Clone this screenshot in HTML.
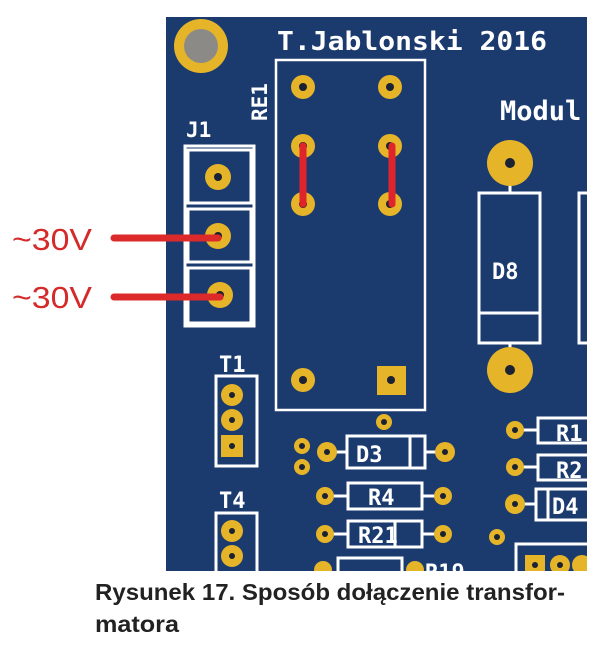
<!DOCTYPE html>
<html><head><meta charset="utf-8"><style>
html,body{margin:0;padding:0;background:#fff;}
svg{display:block;}
</style></head><body>
<svg width="608" height="648" viewBox="0 0 608 648" xmlns="http://www.w3.org/2000/svg" font-family="'DejaVu Sans Mono','Liberation Mono',monospace">
<defs>
<clipPath id="pcb"><rect x="166" y="17" width="421" height="554"/></clipPath>
</defs>
<rect x="0" y="0" width="608" height="648" fill="#fff"/>
<g clip-path="url(#pcb)">
<rect x="166" y="17" width="421" height="554" fill="#1b3b6f"/>
<circle cx="201" cy="46" r="27" fill="#e6b428"/>
<circle cx="201" cy="46" r="17" fill="#8c8a86"/>
<text x="277" y="50" fill="#fff" font-size="26" font-weight="bold" textLength="270" lengthAdjust="spacingAndGlyphs">T.Jablonski 2016</text>
<text x="500" y="120" fill="#fff" font-size="27" font-weight="bold">Modul</text>
<text x="186" y="137" fill="#fff" font-size="21" font-weight="bold">J1</text>
<text transform="translate(267,121) rotate(-90)" fill="#fff" font-size="21" font-weight="bold">RE1</text>
<g fill="none" stroke="#fff" stroke-width="3">
<rect x="185" y="146" width="69" height="180"/>
<rect x="188" y="150" width="63" height="53"/>
<rect x="188" y="209" width="63" height="53"/>
<rect x="188" y="268" width="63" height="55"/>
<rect x="276" y="60" width="149" height="350" stroke-width="2.5"/>
<rect x="479" y="193" width="61" height="150" stroke-width="3"/>
<line x1="479" y1="313" x2="540" y2="313"/>
<line x1="510" y1="175" x2="510" y2="193"/>
<line x1="510" y1="343" x2="510" y2="360"/>
<rect x="579" y="193" width="30" height="150"/>
<rect x="216" y="376" width="41" height="90"/>
<rect x="216" y="513" width="41" height="80"/>
<rect x="347" y="436" width="78" height="32"/>
<line x1="410" y1="436" x2="410" y2="468"/>
<line x1="330" y1="452" x2="347" y2="452"/>
<line x1="425" y1="452" x2="442" y2="452"/>
<rect x="348" y="483" width="74" height="26"/>
<line x1="330" y1="496" x2="348" y2="496"/>
<line x1="422" y1="496" x2="440" y2="496"/>
<rect x="348" y="521" width="74" height="26"/>
<line x1="330" y1="534" x2="348" y2="534"/>
<line x1="422" y1="534" x2="440" y2="534"/>
<line x1="395" y1="521" x2="395" y2="547"/>
<rect x="338" y="558" width="64" height="30"/>
<rect x="538" y="418" width="60" height="25"/>
<line x1="520" y1="430" x2="538" y2="430"/>
<rect x="538" y="455" width="60" height="25"/>
<line x1="520" y1="467" x2="538" y2="467"/>
<rect x="536" y="489" width="60" height="31"/>
<line x1="548" y1="489" x2="548" y2="520"/>
<line x1="520" y1="504" x2="536" y2="504"/>
<rect x="516" y="544" width="80" height="40"/>
</g>
<g fill="#e6b428">
<circle cx="218" cy="177" r="13"/><circle cx="218" cy="236" r="13"/><circle cx="220" cy="295" r="13"/>
<circle cx="303" cy="87" r="12"/><circle cx="390" cy="87" r="12"/>
<circle cx="303" cy="146" r="12"/><circle cx="390" cy="146" r="12"/>
<circle cx="303" cy="204" r="12"/><circle cx="390" cy="204" r="12"/>
<circle cx="303" cy="380" r="12"/><rect x="377" y="366" width="29" height="29"/>
<circle cx="510" cy="163" r="23"/><circle cx="510" cy="370" r="23"/>
<circle cx="232" cy="395" r="11"/><circle cx="232" cy="420" r="11"/><rect x="221" y="435" width="22" height="22"/>
<circle cx="232" cy="531" r="11"/><circle cx="232" cy="556" r="11"/>
<circle cx="384" cy="422" r="8"/>
<circle cx="302" cy="446" r="8"/><circle cx="302" cy="467" r="8"/>
<circle cx="327" cy="452" r="10"/><circle cx="445" cy="452" r="10"/>
<circle cx="325" cy="496" r="9"/><circle cx="443" cy="496" r="9"/>
<circle cx="325" cy="534" r="9"/><circle cx="443" cy="534" r="9"/>
<circle cx="323" cy="570" r="9"/><circle cx="415" cy="570" r="9"/>
<circle cx="515" cy="430" r="9"/><circle cx="515" cy="467" r="9"/><circle cx="515" cy="504" r="10"/>
<circle cx="497" cy="537" r="8"/>
<rect x="525" y="555" width="20" height="20"/><circle cx="560" cy="565" r="10"/><circle cx="582" cy="565" r="10"/>
</g>
<g fill="#1a2233">
<circle cx="218" cy="177" r="4"/><circle cx="218" cy="236" r="4"/><circle cx="220" cy="295" r="4"/>
<circle cx="303" cy="87" r="4"/><circle cx="390" cy="87" r="4"/>
<circle cx="303" cy="146" r="4"/><circle cx="390" cy="146" r="4"/>
<circle cx="303" cy="204" r="4"/><circle cx="390" cy="204" r="4"/>
<circle cx="303" cy="380" r="4"/><circle cx="391" cy="380" r="4"/>
<circle cx="510" cy="163" r="5"/><circle cx="510" cy="370" r="5"/>
<circle cx="232" cy="395" r="3"/><circle cx="232" cy="420" r="3"/><circle cx="232" cy="446" r="3"/>
<circle cx="232" cy="531" r="3"/><circle cx="232" cy="556" r="3"/>
<circle cx="384" cy="422" r="3"/><circle cx="302" cy="446" r="3"/><circle cx="302" cy="467" r="3"/>
<circle cx="327" cy="452" r="3"/><circle cx="445" cy="452" r="3"/>
<circle cx="325" cy="496" r="3"/><circle cx="443" cy="496" r="3"/><circle cx="325" cy="534" r="3"/><circle cx="443" cy="534" r="3"/>
<circle cx="515" cy="430" r="3"/><circle cx="515" cy="467" r="3"/><circle cx="515" cy="504" r="3"/><circle cx="497" cy="537" r="3"/>
<circle cx="535" cy="565" r="3"/><circle cx="560" cy="565" r="3"/>
</g>
<g fill="#fff" font-size="22" font-weight="bold">
<text x="492" y="279">D8</text>
<text x="356" y="462">D3</text>
<text x="368" y="505">R4</text>
<text x="358" y="543">R21</text>
<text x="425" y="580">R19</text>
<text x="556" y="441">R1</text>
<text x="556" y="478">R2</text>
<text x="552" y="514">D4</text>
<text x="219" y="372">T1</text>
<text x="219" y="508">T4</text>
</g>
<g stroke="#e0242c" stroke-width="7" stroke-linecap="round">
<line x1="303" y1="146" x2="303" y2="204"/>
<line x1="392" y1="146" x2="392" y2="204"/>
</g>
</g>
<g stroke="#dc2a2a" stroke-width="7" stroke-linecap="round">
<line x1="114" y1="238" x2="218" y2="238"/>
<line x1="114" y1="297" x2="220" y2="297"/>
</g>
<g fill="#d42a2a" font-family="'Liberation Sans',sans-serif" font-size="31">
<text x="12" y="250" textLength="80" lengthAdjust="spacingAndGlyphs">~30V</text>
<text x="12" y="308" textLength="80" lengthAdjust="spacingAndGlyphs">~30V</text>
</g>
<g fill="#222" font-family="'Liberation Sans',sans-serif" font-weight="bold" font-size="23">
<text x="95" y="600" textLength="470" lengthAdjust="spacingAndGlyphs">Rysunek 17. Sposób dołączenie transfor-</text>
<text x="95" y="632" textLength="84" lengthAdjust="spacingAndGlyphs">matora</text>
</g>
</svg>
</body></html>
